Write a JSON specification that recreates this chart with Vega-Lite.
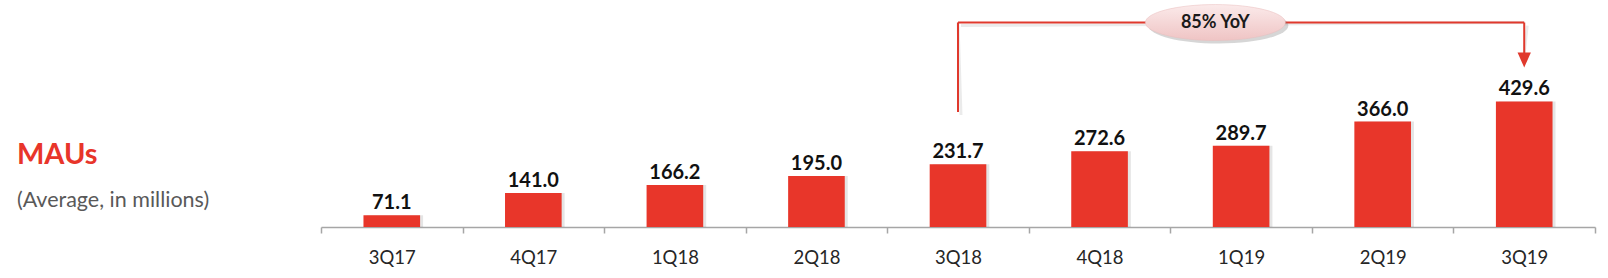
{
  "$schema": "https://vega.github.io/schema/vega-lite/v6.json",
  "width": 1274,
  "height": 227,
  "autosize": {"type": "none"},
  "padding": {"left": 321, "top": 0, "right": 13, "bottom": 51},
  "background": "white",
  "config": {"view": {"stroke": null}, "font": "Lato"},
  "datasets": {
    "mau": [
      {"quarter": "3Q17", "mau": 71.1},
      {"quarter": "4Q17", "mau": 141.0},
      {"quarter": "1Q18", "mau": 166.2},
      {"quarter": "2Q18", "mau": 195.0},
      {"quarter": "3Q18", "mau": 231.7},
      {"quarter": "4Q18", "mau": 272.6},
      {"quarter": "1Q19", "mau": 289.7},
      {"quarter": "2Q19", "mau": 366.0},
      {"quarter": "3Q19", "mau": 429.6}
    ],
    "bracket": [
      {"x": 4.5, "y": 396, "x2": 4.5, "y2": 678},
      {"x": 4.5, "y": 678, "x2": 8.5, "y2": 678},
      {"x": 8.5, "y": 678, "x2": 8.5, "y2": 582}
    ],
    "arrow": [{"x": 8.5, "y": 560}],
    "badge": [{"x": 6.318, "y": 678, "label": "85% YoY"}],
    "heading": [
      {"x": -2.148, "y": 232.5, "text": "MAUs", "kind": "title"},
      {"x": -2.148, "y": 96, "text": "(Average, in millions)", "kind": "sub"}
    ]
  },
  "resolve": {"scale": {"x": "independent"}},
  "layer": [
    {
      "data": {"name": "mau"},
      "encoding": {
        "x": {
          "field": "quarter", "type": "ordinal", "sort": null,
          "scale": {"type": "band", "paddingInner": 0, "paddingOuter": 0},
          "axis": {
            "title": null, "domainColor": "#a6a6a6", "domainWidth": 1.5,
            "tickColor": "#a6a6a6", "tickWidth": 1.5, "tickSize": 6, "tickBand": "extent",
            "labelFont": "Lato", "labelFontSize": 18.5, "labelColor": "#262626",
            "labelPadding": 15, "labelAngle": 0, "grid": false
          }
        },
        "y": {
          "field": "mau", "type": "quantitative",
          "scale": {"domain": [34, 749], "zero": false, "nice": false},
          "axis": null
        }
      },
      "layer": [
        {"mark": {"type": "bar", "width": {"band": 0.4}, "color": "#000000", "opacity": 0.1, "xOffset": 3}, "encoding": {"y2": {"datum": 34}}},
        {"mark": {"type": "bar", "width": {"band": 0.4}, "color": "#e8362a"}, "encoding": {"y2": {"datum": 34}}},
        {"mark": {"type": "text", "baseline": "alphabetic", "dy": -6, "fontSize": 20, "fontWeight": "bold", "color": "#111111"},
         "encoding": {"text": {"field": "mau", "type": "quantitative", "format": ".1f"}}}
      ]
    },
    {
      "layer": [
        {
          "data": {"name": "bracket"},
          "mark": {"type": "rule", "color": "#000000", "opacity": 0.08, "strokeWidth": 3, "xOffset": 3, "yOffset": 3},
          "encoding": {
            "x": {"field": "x", "type": "quantitative", "scale": {"domain": [0, 9], "nice": false, "zero": false}, "axis": null},
            "x2": {"field": "x2"},
            "y": {"field": "y", "type": "quantitative", "scale": {"domain": [34, 749], "zero": false, "nice": false}, "axis": null},
            "y2": {"field": "y2"}
          }
        },
        {
          "data": {"name": "bracket"},
          "mark": {"type": "rule", "color": "#e0392d", "strokeWidth": 2},
          "encoding": {
            "x": {"field": "x", "type": "quantitative", "scale": {"domain": [0, 9], "nice": false, "zero": false}, "axis": null},
            "x2": {"field": "x2"},
            "y": {"field": "y", "type": "quantitative", "scale": {"domain": [34, 749], "zero": false, "nice": false}, "axis": null},
            "y2": {"field": "y2"}
          }
        },
        {
          "data": {"name": "arrow"},
          "mark": {"type": "point", "shape": "M -0.89 -1 L 0.89 -1 L 0 1 Z", "size": 225, "filled": true, "color": "#e0392d", "opacity": 1, "strokeWidth": 0},
          "encoding": {
            "x": {"field": "x", "type": "quantitative", "scale": {"domain": [0, 9], "nice": false, "zero": false}, "axis": null},
            "y": {"field": "y", "type": "quantitative", "scale": {"domain": [34, 749], "zero": false, "nice": false}, "axis": null}
          }
        },
        {
          "data": {"name": "badge"},
          "mark": {"type": "point", "shape": "M -1 0 A 1 0.257 0 1 1 1 0 A 1 0.257 0 1 1 -1 0 Z", "size": 19600, "filled": true, "color": "#777777", "opacity": 0.3, "strokeWidth": 0, "xOffset": 3, "yOffset": 3},
          "encoding": {
            "x": {"field": "x", "type": "quantitative", "scale": {"domain": [0, 9], "nice": false, "zero": false}, "axis": null},
            "y": {"field": "y", "type": "quantitative", "scale": {"domain": [34, 749], "zero": false, "nice": false}, "axis": null}
          }
        },
        {
          "data": {"name": "badge"},
          "mark": {"type": "point", "shape": "M -1 0 A 1 0.257 0 1 1 1 0 A 1 0.257 0 1 1 -1 0 Z", "size": 19600, "filled": true, "opacity": 1,
                   "fill": {"gradient": "linear", "x1": 0, "y1": 0, "x2": 0, "y2": 1, "stops": [{"offset": 0, "color": "#fbeaea"}, {"offset": 1, "color": "#efc4c4"}]},
                   "stroke": "#e8bcbc", "strokeWidth": 0.5},
          "encoding": {
            "x": {"field": "x", "type": "quantitative", "scale": {"domain": [0, 9], "nice": false, "zero": false}, "axis": null},
            "y": {"field": "y", "type": "quantitative", "scale": {"domain": [34, 749], "zero": false, "nice": false}, "axis": null}
          }
        },
        {
          "data": {"name": "badge"},
          "mark": {"type": "text", "align": "center", "baseline": "middle", "fontSize": 18, "fontWeight": "bold", "color": "#1a1a1a"},
          "encoding": {
            "x": {"field": "x", "type": "quantitative", "scale": {"domain": [0, 9], "nice": false, "zero": false}, "axis": null},
            "y": {"field": "y", "type": "quantitative", "scale": {"domain": [34, 749], "zero": false, "nice": false}, "axis": null},
            "text": {"field": "label"}
          }
        },
        {
          "data": {"name": "heading"},
          "transform": [{"filter": "datum.kind === 'title'"}],
          "mark": {"type": "text", "align": "left", "baseline": "alphabetic", "fontSize": 29, "fontWeight": "bold", "color": "#e8352a"},
          "encoding": {
            "x": {"field": "x", "type": "quantitative", "scale": {"domain": [0, 9], "nice": false, "zero": false}, "axis": null},
            "y": {"field": "y", "type": "quantitative", "scale": {"domain": [34, 749], "zero": false, "nice": false}, "axis": null},
            "text": {"field": "text"}
          }
        },
        {
          "data": {"name": "heading"},
          "transform": [{"filter": "datum.kind === 'sub'"}],
          "mark": {"type": "text", "align": "left", "baseline": "alphabetic", "fontSize": 21.5, "color": "#595959"},
          "encoding": {
            "x": {"field": "x", "type": "quantitative", "scale": {"domain": [0, 9], "nice": false, "zero": false}, "axis": null},
            "y": {"field": "y", "type": "quantitative", "scale": {"domain": [34, 749], "zero": false, "nice": false}, "axis": null},
            "text": {"field": "text"}
          }
        }
      ]
    }
  ]
}
